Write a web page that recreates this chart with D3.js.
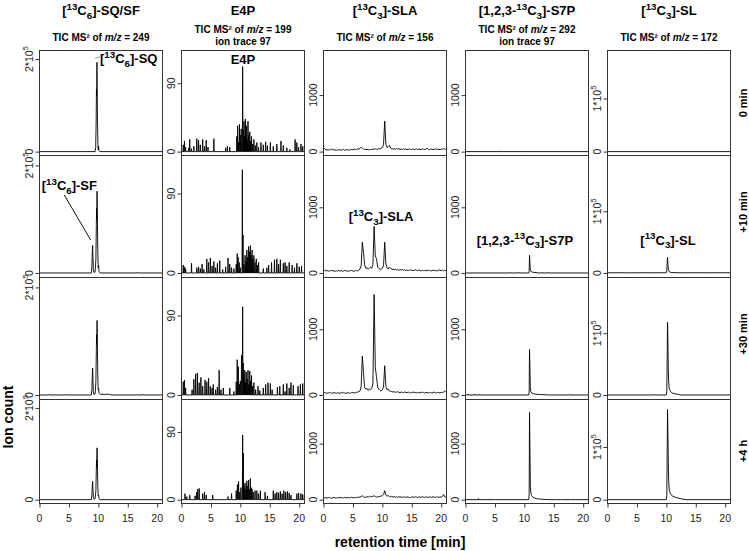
<!DOCTYPE html>
<html><head><meta charset="utf-8">
<script src="https://cdn.jsdelivr.net/npm/d3@7"></script>
<style>body{margin:0;background:#fff} svg{display:block}</style>
</head><body>
<svg id="chart" width="749" height="551"></svg>
<script>
// ---------------- DATA ----------------
const xMax = 20.9;
const timeTicks = [0, 5, 10, 15, 20];
const rowLabels = ["0 min", "+10 min", "+30 min", "+4 h"];
const yLimTop = [2.1, 128, 1720, 1720, 1.83];          // per column (units: 10^5, counts, counts, counts, 10^5)
const yTickValue = [2, 90, 1000, 1000, 1];
const yTickLabel = [["2*10", "5"], ["90"], ["1000"], ["1000"], ["1*10", "5"]];

const colTitles = [
  [["["], ["13", "sup"], ["C"], ["6", "sub"], ["]-SQ/SF"]],
  [["E4P"]],
  [["["], ["13", "sup"], ["C"], ["3", "sub"], ["]-SLA"]],
  [["[1,2,3-"], ["13", "sup"], ["C"], ["3", "sub"], ["]-S7P"]],
  [["["], ["13", "sup"], ["C"], ["3", "sub"], ["]-SL"]]
];
const subTitles = [
  [[["TIC MS² of "], ["m/z", "it"], [" = 249"]]],
  [[["TIC MS² of "], ["m/z", "it"], [" = 199"]], [["ion trace 97"]]],
  [[["TIC MS² of "], ["m/z", "it"], [" = 156"]]],
  [[["TIC MS² of "], ["m/z", "it"], [" = 292"]], [["ion trace 97"]]],
  [[["TIC MS² of "], ["m/z", "it"], [" = 172"]]]
];

// [13C6]-SQ/SF, TIC (units 10^5), [time, value]
const sqsf0 = [[0,0],[7.8,0],[7.85,0.01],[7.9,0],[9.45,0],[9.55,0.08],[9.62,0.6],[9.68,1.35],[9.71,1.2],[9.76,1.93],[9.8,1.4],[9.86,0.6],[9.93,0.15],[9.98,0.04],[10.04,0.12],[10.1,0.02],[10.25,0],[20.9,0]];
const sqsf10 = [[0,0],[8.8,0],[8.9,0.1],[8.98,0.42],[9.03,0.51],[9.08,0.3],[9.15,0.06],[9.25,0.01],[9.45,0.02],[9.58,0.25],[9.66,0.9],[9.7,1.2],[9.73,1.0],[9.78,1.52],[9.83,1.1],[9.9,0.45],[9.97,0.1],[10.05,0.14],[10.12,0.03],[10.3,0],[16.5,0],[16.55,0.01],[16.6,0],[20.9,0]];
const sqsf30 = [[0,0],[1.5,0],[1.55,0.01],[1.6,0],[4.5,0],[4.55,0.01],[4.6,0],[8.8,0],[8.9,0.1],[8.98,0.42],[9.03,0.5],[9.08,0.3],[9.15,0.06],[9.25,0.01],[9.45,0.02],[9.58,0.25],[9.66,0.85],[9.7,1.12],[9.73,0.95],[9.78,1.385],[9.83,1.0],[9.9,0.4],[9.97,0.1],[10.05,0.12],[10.12,0.03],[10.3,0.01],[10.6,0.015],[11.0,0.01],[11.4,0.012],[11.8,0.015],[12.2,0],[17.6,0],[17.65,0.01],[17.7,0],[20.9,0]];
const sqsf4h = [[0,0],[8.8,0],[8.9,0.08],[8.98,0.33],[9.03,0.4],[9.08,0.24],[9.15,0.05],[9.25,0.01],[9.45,0.02],[9.58,0.2],[9.66,0.7],[9.7,0.87],[9.73,0.7],[9.78,1.13],[9.83,0.8],[9.9,0.35],[9.97,0.08],[10.05,0.1],[10.12,0.02],[10.3,0],[20.9,0]];

// E4P, ion trace 97: spikes [time, height]
const e4p0 = [[0.3,9],[0.5,14],[0.7,6],[1.2,5],[1.4,16],[1.7,4],[2.1,7],[2.6,17],[2.9,15],[3.2,9],[3.6,16],[3.9,7],[4.2,15],[4.5,6],[5.5,17],[7.5,5],[7.8,7],[8.2,6],[9.4,20],[9.55,34],[9.7,12],[9.85,36],[10.0,22],[10.15,30],[10.39,112],[10.5,28],[10.62,40],[10.75,20],[10.85,43],[10.95,24],[11.05,34],[11.15,16],[11.3,40],[11.45,22],[11.6,26],[11.75,14],[11.9,20],[12.1,10],[12.3,16],[12.55,8],[12.8,12],[13.1,6],[13.5,12],[13.9,9],[14.3,13],[14.6,8],[15.1,12],[15.6,7],[16.2,10],[16.9,14],[17.3,8],[17.9,5],[18.4,3],[19.3,16],[19.6,12],[19.9,6],[20.3,10],[20.6,7]];
const e4p10 = [[0.3,9],[0.5,7],[0.7,5],[1.7,11],[2.6,6],[2.9,7],[3.2,5],[3.5,10],[3.8,4],[4.3,16],[4.6,12],[4.9,17],[5.2,8],[5.5,13],[5.8,6],[6.1,11],[6.5,14],[7.0,4],[7.5,7],[7.9,17],[8.2,10],[8.5,6],[8.9,5],[9.3,10],[9.47,22],[9.62,18],[9.8,12],[10.0,6],[10.34,117],[10.45,43],[10.6,10],[10.8,20],[10.95,14],[11.1,26],[11.25,18],[11.4,30],[11.55,24],[11.7,31],[11.85,20],[12.0,26],[12.15,16],[12.3,20],[12.5,12],[12.7,16],[12.9,9],[13.1,12],[13.9,5],[14.5,6],[14.8,9],[15.3,12],[15.8,15],[16.2,16],[16.5,10],[16.8,15],[17.3,11],[17.6,12],[17.9,8],[18.3,12],[18.8,9],[19.2,6],[19.6,11],[20.0,7],[20.4,8]];
const e4p30 = [[0.3,15],[0.5,17],[0.7,8],[1.8,6],[2.1,18],[2.4,24],[2.7,25],[3.0,14],[3.3,20],[3.6,10],[4.0,17],[4.3,15],[4.6,19],[4.9,10],[5.2,8],[5.4,12],[5.8,6],[6.1,9],[6.4,28],[6.7,6],[7.1,8],[8.2,8],[8.9,4],[9.3,15],[9.47,40],[9.65,32],[9.85,12],[10.0,16],[10.2,45],[10.39,100],[10.5,36],[10.62,20],[10.75,28],[10.88,14],[11.0,26],[11.15,18],[11.3,28],[11.45,12],[11.6,27],[11.75,16],[11.9,22],[12.1,10],[12.3,14],[12.6,6],[13.0,10],[13.3,5],[13.9,8],[14.3,12],[14.7,14],[15.1,13],[15.4,6],[16.3,9],[16.7,10],[17.3,12],[17.6,4],[17.9,13],[18.3,8],[18.6,14],[19.0,11],[19.8,10],[20.2,12],[20.6,13]];
const e4p4h = [[0.6,8],[0.9,4],[1.4,6],[2.3,5],[2.55,10],[2.75,14],[3.0,15],[3.6,8],[3.9,10],[4.2,6],[5.3,6],[7.9,4],[8.5,8],[9.3,12],[9.5,20],[9.7,24],[9.9,10],[10.1,16],[10.39,86],[10.5,62],[10.65,18],[10.8,22],[10.95,14],[11.1,25],[11.25,18],[11.4,26],[11.55,14],[11.7,28],[11.85,16],[12.0,14],[12.2,10],[12.5,12],[12.8,12],[13.1,8],[13.4,12],[14.2,10],[14.6,5],[15.6,12],[15.9,8],[16.2,10],[16.5,9],[16.8,11],[17.1,8],[17.4,12],[17.7,10],[18.0,11],[18.3,9],[18.6,6],[19.6,8],[19.9,9],[20.3,8],[20.6,7]];

// [13C3]-SLA, TIC, sampled every 0.2 min from t = 0
const slaStep = 0.2;
const sla0 = [40,55,30,35,25,40,30,45,35,30, 25,30,20,35,30,25,30,40,25,30, 35,30,25,40,35,30,45,40,35,50, 45,55,80,60,45,40,35,40,30,35, 40,35,45,40,50,45,40,55,45,60, 70,120,540,130,70,90,110,60,55,45, 50,40,55,45,50,40,45,35,50,40, 45,35,40,50,35,40,45,35,40,50, 35,45,40,35,50,40,35,45,60,40, 35,45,40,35,40,50,35,45,40,35, 45,40,55,45,40];
const sla10 = [35,45,30,40,25,35,30,40,35,25, 30,35,25,40,30,35,25,30,40,30, 35,25,30,40,35,30,25,35,40,30, 45,60,110,470,300,120,70,80,60,75, 90,70,130,710,260,220,90,70,60,55, 70,110,470,140,80,60,90,70,60,55, 50,60,45,55,40,50,45,55,40,50, 40,45,35,50,40,45,35,40,50,40, 35,45,40,30,45,35,40,30,45,35, 40,35,30,45,35,40,30,35,45,40, 35,45,30,40,35];
const sla30 = [35,40,30,25,35,30,40,25,30,35, 30,25,35,30,25,35,30,40,30,25, 30,35,25,30,40,35,30,35,40,45, 50,60,130,594,330,110,90,100,70,95, 80,100,180,1530,420,280,120,90,70,60, 80,120,446,130,80,90,60,55,50,45, 50,40,45,50,40,35,45,40,35,45, 40,35,45,30,40,35,45,40,35,30, 40,35,30,45,35,40,30,35,40,30, 35,40,30,35,45,35,30,40,35,30, 40,35,45,60,40];
const sla4h = [45,30,40,25,35,40,30,25,35,40, 30,35,25,45,30,40,35,30,40,35, 30,40,35,30,45,35,30,40,35,45, 40,50,55,70,50,45,40,55,45,60, 50,55,60,70,55,45,50,55,60,65, 70,90,160,80,60,75,55,50,60,45, 55,45,50,40,55,45,50,40,45,50, 40,50,45,40,35,50,45,40,55,45, 40,50,45,40,55,45,40,50,45,40, 50,45,40,55,45,40,50,45,40,50, 45,55,90,50,45];

// [1,2,3-13C3]-S7P, ion trace 97, [time, value]
const s7p0 = [[0,0],[5.75,0],[5.8,12],[5.85,0],[9.85,0],[9.9,10],[9.95,0],[10.15,0],[10.2,10],[10.25,0],[20.9,0]];
const s7p10 = [[0,0],[7.5,0],[7.55,8],[7.6,0],[9.0,0],[9.05,8],[9.1,0],[10.75,0],[10.82,40],[10.88,268],[10.95,150],[11.02,45],[11.1,25],[11.3,15],[11.5,10],[11.8,6],[12.2,5],[12.5,0],[12.9,0],[12.95,8],[13.0,0],[14.0,0],[14.05,8],[14.1,0],[20.9,0]];
const s7p30 = [[0,0],[0.4,0],[0.45,15],[0.5,0],[1.6,0],[1.65,10],[1.7,0],[2.4,0],[2.45,12],[2.5,0],[10.75,0],[10.82,60],[10.88,694],[10.95,380],[11.02,110],[11.1,50],[11.25,30],[11.5,20],[11.8,14],[12.2,10],[12.8,6],[13.5,4],[14.0,0],[15.5,0],[15.55,8],[15.6,0],[17.5,0],[17.55,6],[17.6,0],[20.9,0]];
const s7p4h = [[0,0],[2.15,0],[2.2,20],[2.25,0],[5.0,0],[5.05,8],[5.1,0],[10.75,0],[10.82,120],[10.88,1557],[10.95,900],[11.02,250],[11.1,120],[11.25,70],[11.5,40],[11.8,25],[12.2,15],[12.8,8],[13.5,4],[14.2,0],[15.2,0],[15.25,6],[15.3,0],[16.3,0],[16.35,6],[16.4,0],[17.8,0],[17.85,6],[17.9,0],[20.9,0]];

// [13C3]-SL, TIC (units 10^5), [time, value]
const sl0 = [[0,0],[20.9,0]];
const sl10 = [[0,0.003],[2,0.004],[4,0.002],[6,0.004],[8,0.003],[9.9,0.004],[10.05,0.01],[10.12,0.12],[10.2,0.258],[10.26,0.15],[10.35,0.05],[10.5,0.02],[10.8,0.008],[11.5,0.005],[13,0.003],[15,0.004],[17,0.003],[19,0.004],[20.9,0.003]];
const sl30 = [[0,0],[7.8,0],[7.85,0.01],[7.9,0],[10.0,0],[10.08,0.05],[10.15,0.7],[10.2,1.18],[10.26,0.9],[10.33,0.45],[10.4,0.2],[10.5,0.1],[10.7,0.06],[11.0,0.03],[11.5,0.02],[12.0,0.01],[12.5,0],[20.9,0]];
const sl4h = [[0,0],[10.0,0],[10.08,0.08],[10.15,1.0],[10.2,1.71],[10.26,1.3],[10.33,0.75],[10.4,0.35],[10.5,0.18],[10.7,0.11],[11.0,0.07],[11.5,0.045],[12.0,0.03],[12.5,0.015],[13.0,0.005],[13.5,0],[20.9,0]];

// in-panel annotations [col,row,time,value,parts,anchor]
const peakLabels = [
  [0, 0, 10.28, 1.91, [["["], ["13", "sup"], ["C"], ["6", "sub"], ["]-SQ"]], "start"],
  [0, 1, 0.37, 1.54, [["["], ["13", "sup"], ["C"], ["6", "sub"], ["]-SF"]], "start"],
  [1, 0, 10.45, 115, [["E4P"]], "middle"],
  [2, 1, 9.77, 791, [["["], ["13", "sup"], ["C"], ["3", "sub"], ["]-SLA"]], "middle"],
  [3, 1, 10.1, 433, [["[1,2,3-"], ["13", "sup"], ["C"], ["3", "sub"], ["]-S7P"]], "middle"],
  [4, 1, 10.28, 0.461, [["["], ["13", "sup"], ["C"], ["3", "sub"], ["]-SL"]], "middle"]
];
// leader lines [col,row,t1,v1,t2,v2,color]
const leaders = [
  [0, 0, 9.43, 2.015, 10.28, 2.05, "#999"],
  [0, 1, 4.21, 1.45, 8.7, 0.613, "#111"]
];

// ---------------- LAYOUT ----------------
const panelLeft = [39.5, 181.5, 323.5, 465.5, 607.5];
const panelW = 123;
const rowTop = [50.5, 155.5, 277.5, 399.5];
const rowBottom = [155.5, 277.5, 399.5, 503.5];
const FONT = "'Liberation Sans', Arial, Helvetica, sans-serif";

const svg = d3.select("#chart").style("font-family", FONT);

const series = [
  [sqsf0, sqsf10, sqsf30, sqsf4h],
  [e4p0, e4p10, e4p30, e4p4h],
  [sla0, sla10, sla30, sla4h],
  [s7p0, s7p10, s7p30, s7p4h],
  [sl0, sl10, sl30, sl4h]
];
const kind = ["pts", "spikes", "grid", "pts", "pts"];

function rich(g, parts, x, y, fs, anchor, weight) {
  const t = g.append("text").attr("x", x).attr("y", y).attr("font-size", fs)
    .attr("text-anchor", anchor).attr("font-weight", weight || "bold").attr("fill", "#000");
  let cur = 0;
  parts.forEach(([s, k]) => {
    const shift = k === "sup" ? -0.42 * fs : k === "sub" ? 0.28 * fs : 0;
    const ts = t.append("tspan").text(s).attr("dy", shift - cur);
    if (k === "sup" || k === "sub") ts.attr("font-size", fs * 0.75);
    if (k === "it") ts.attr("font-style", "italic");
    cur = shift;
  });
  return t;
}

const scales = [];
for (let c = 0; c < 5; c++) {
  scales[c] = [];
  const x = d3.scaleLinear().domain([0, xMax]).range([panelLeft[c], panelLeft[c] + panelW]);
  const lo = -0.04 * yLimTop[c], hi = 1.04 * yLimTop[c];
  for (let r = 0; r < 4; r++) {
    const y = d3.scaleLinear().domain([lo, hi]).range([rowBottom[r], rowTop[r]]);
    scales[c][r] = { x, y };
    const g = svg.append("g");
    const data = series[c][r];
    let pts;
    if (kind[c] === "pts") pts = data;
    else if (kind[c] === "grid") pts = data.map((v, i) => [i * slaStep, v]);
    else {
      pts = [[0, 0]];
      const w = 0.05;
      data.forEach(([t, h]) => { pts.push([t - w, 0], [t, h], [t + w, 0]); });
      pts.push([xMax, 0]);
    }
    const line = d3.line().x(d => x(d[0])).y(d => y(d[1]));
    g.append("path").attr("d", line(pts)).attr("fill", "none")
      .attr("stroke", "#000").attr("stroke-width", 0.9).attr("stroke-linejoin", "round");

    // box
    g.append("rect").attr("x", panelLeft[c]).attr("y", rowTop[r]).attr("width", panelW)
      .attr("height", rowBottom[r] - rowTop[r]).attr("fill", "none").attr("stroke", "#333").attr("stroke-width", 1);

    // y axis
    const ya = d3.axisLeft(y).tickValues([0, yTickValue[c]]).tickSize(4).tickFormat("");
    const yg = g.append("g").attr("transform", `translate(${panelLeft[c]},0)`).call(ya);
    yg.select(".domain").remove();
    yg.selectAll("line").attr("stroke", "#333");
    [0, yTickValue[c]].forEach((v, i) => {
      const parts = i === 0 ? [["0"]] : (yTickLabel[c].length > 1 ? [[yTickLabel[c][0]], [yTickLabel[c][1], "sup"]] : [[yTickLabel[c][0]]]);
      rich(g, parts, 0, 0, 10.5, "middle", "normal")
        .attr("fill", "#222")
        .attr("transform", `translate(${panelLeft[c] - 7},${y(v)}) rotate(-90)`);
    });

    // x axis on bottom row
    if (r === 3) {
      const xa = d3.axisBottom(x).tickValues(timeTicks).tickSize(4).tickFormat("");
      const xg = g.append("g").attr("transform", `translate(0,${rowBottom[r]})`).call(xa);
      xg.select(".domain").remove();
      xg.selectAll("line").attr("stroke", "#333");
      xg.append("line").attr("x1", x(timeTicks[0])).attr("x2", x(timeTicks[timeTicks.length - 1]))
        .attr("stroke", "#333");
      timeTicks.forEach(t => {
        g.append("text").attr("x", x(t)).attr("y", 521.5).attr("text-anchor", "middle")
          .attr("font-size", 10.5).attr("fill", "#222").text(t);
      });
    }
  }
  // column titles
  const cx = panelLeft[c] + panelW / 2;
  rich(svg, colTitles[c], cx, 15, 13, "middle");
  const subs = subTitles[c];
  if (subs.length === 1) rich(svg, subs[0], cx, 41, 10, "middle");
  else { rich(svg, subs[0], cx, 33, 10, "middle"); rich(svg, subs[1], cx, 44.5, 10, "middle"); }
}

// leader lines
leaders.forEach(([c, r, t1, v1, t2, v2, col]) => {
  const s = scales[c][r];
  svg.append("line").attr("x1", s.x(t1)).attr("y1", s.y(v1)).attr("x2", s.x(t2)).attr("y2", s.y(v2))
    .attr("stroke", col).attr("stroke-width", 1);
});
// peak labels
peakLabels.forEach(([c, r, t, v, parts, anchor]) => {
  const s = scales[c][r];
  rich(svg, parts, s.x(t), s.y(v), 13, anchor);
});

// row labels (right)
const rowLabelY = [103, 212, 334, 451];
rowLabels.forEach((l, i) => {
  svg.append("text").attr("transform", `translate(747,${rowLabelY[i]}) rotate(-90)`)
    .attr("text-anchor", "middle").attr("font-size", 11).attr("font-weight", "bold").text(l);
});

// axis titles
svg.append("text").attr("x", 400).attr("y", 547).attr("text-anchor", "middle")
  .attr("font-size", 14).attr("font-weight", "bold").text("retention time [min]");
svg.append("text").attr("transform", "translate(13,417) rotate(-90)")
  .attr("text-anchor", "middle").attr("font-size", 14).attr("font-weight", "bold").text("Ion count");
</script>
</body></html>
